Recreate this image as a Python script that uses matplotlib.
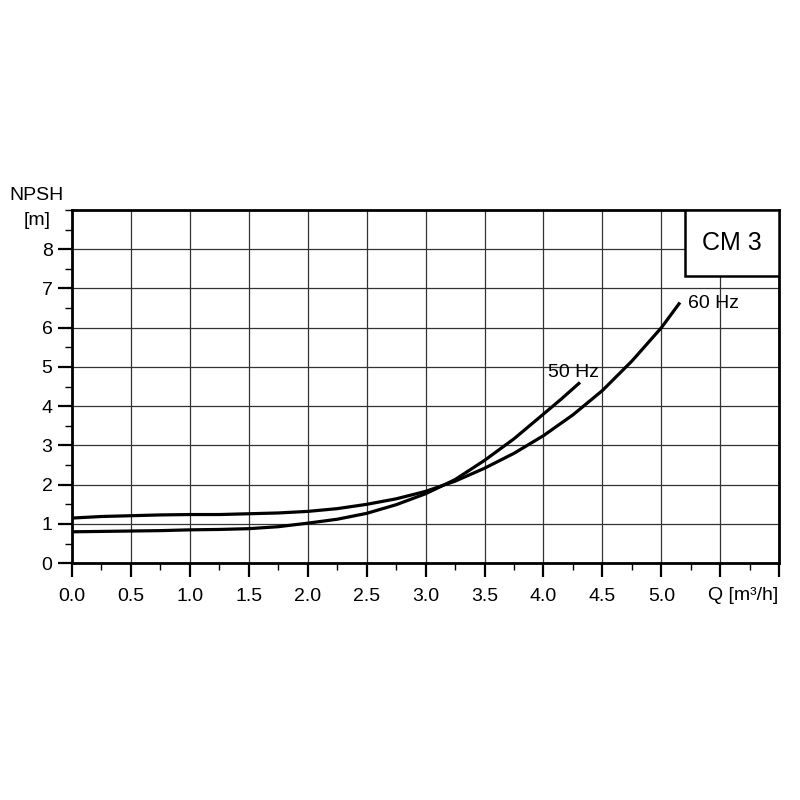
import matplotlib.pyplot as plt
from matplotlib.ticker import FixedLocator, MultipleLocator
import numpy as np

plt.rcParams['font.family'] = ['Liberation Sans', 'DejaVu Sans']

# NPSH curves
q_50 = [0.0, 0.25, 0.5, 0.75, 1.0, 1.25, 1.5, 1.75, 2.0, 2.25, 2.5, 2.75,
        3.0, 3.25, 3.5, 3.75, 4.0, 4.15, 4.3]
npsh_50 = [0.80, 0.81, 0.82, 0.83, 0.85, 0.86, 0.88, 0.93, 1.02, 1.12, 1.27, 1.49,
           1.77, 2.13, 2.62, 3.17, 3.80, 4.18, 4.58]

q_60 = [0.0, 0.25, 0.5, 0.75, 1.0, 1.25, 1.5, 1.75, 2.0, 2.25, 2.5, 2.75,
        3.0, 3.25, 3.5, 3.75, 4.0, 4.25, 4.5, 4.75, 5.0, 5.15]
npsh_60 = [1.15, 1.19, 1.21, 1.23, 1.24, 1.24, 1.26, 1.28, 1.32, 1.39, 1.50, 1.64,
           1.83, 2.09, 2.42, 2.80, 3.25, 3.78, 4.40, 5.15, 6.00, 6.61]

x_ticks = np.arange(0, 6.01, 0.5)
x_labels = ['%.1f' % v if v <= 5.0 else '' for v in x_ticks]
y_ticks = list(range(0, 9))

fig = plt.figure(figsize=(8, 8), dpi=100)
ax = fig.add_axes([0.09, 0.296, 0.884, 0.4415])

ax.plot(q_50, npsh_50, color='black', lw=2.3, solid_joinstyle='round', zorder=3)
ax.plot(q_60, npsh_60, color='black', lw=2.3, solid_joinstyle='round', zorder=3)

ax.set_xlim(0, 6.0)
ax.set_ylim(0, 9)

ax.xaxis.set_major_locator(FixedLocator(x_ticks))
ax.set_xticklabels(x_labels)
ax.xaxis.set_minor_locator(MultipleLocator(0.25))
ax.yaxis.set_major_locator(FixedLocator(y_ticks))
ax.yaxis.set_minor_locator(MultipleLocator(0.5))

ax.tick_params(which='major', direction='out', length=10, width=1.6, labelsize=14)
ax.tick_params(which='minor', direction='out', length=5, width=1.0)
ax.tick_params(axis='x', which='major', pad=8)
ax.tick_params(axis='y', which='major', pad=4)

ax.grid(True, which='major', color='#333333', lw=0.9)
for s in ax.spines.values():
    s.set_linewidth(2.0)

ax.text(4.04, 4.87, '50 Hz', fontsize=14, va='center', ha='left')
ax.text(5.23, 6.63, '60 Hz', fontsize=14, va='center', ha='left')

# CM 3 label box in the corner
box = plt.Rectangle((5.2, 7.32), 0.8, 1.68, facecolor='white', edgecolor='black',
                    lw=1.8, zorder=4)
ax.add_patch(box)
ax.text(5.6, 8.16, 'CM 3', fontsize=18, ha='center', va='center', zorder=5)

fig.text(0.046, 0.755, 'NPSH', fontsize=14, ha='center', va='center')
fig.text(0.046, 0.724, '[m]', fontsize=14, ha='center', va='center')
fig.text(0.929, 0.255, 'Q [m³/h]', fontsize=14, ha='center', va='center')

fig.savefig('out.png', dpi=100, facecolor='white')
